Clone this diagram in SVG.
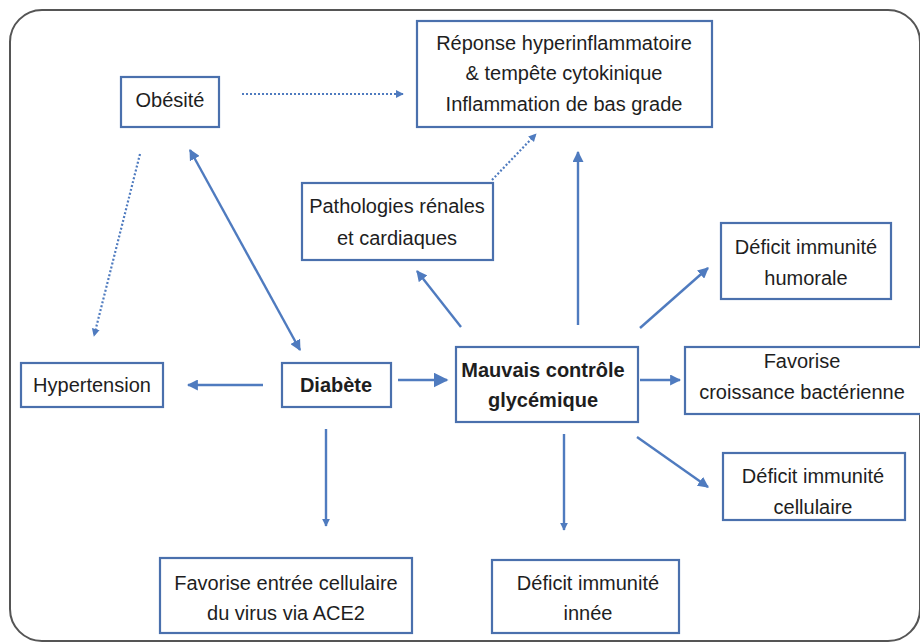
<svg xmlns="http://www.w3.org/2000/svg" width="920" height="644" viewBox="0 0 920 644">
<style>
.box{fill:#fff;stroke:#4a70ad;stroke-width:2.2}
.t{font-family:"Liberation Sans",Arial,sans-serif;font-size:20px;fill:#1e1e1e;text-anchor:middle}
.b{font-weight:bold}
.c{fill:none;stroke:#4f7bbf;stroke-width:2.4}
.d{fill:none;stroke:#4f7bbf;stroke-width:2.2;stroke-dasharray:2 2}
</style>
<defs>
<marker id="ah" viewBox="0 0 10 10" refX="9" refY="5" markerWidth="11" markerHeight="11" markerUnits="userSpaceOnUse" orient="auto-start-reverse"><path d="M0,0 L10,5 L0,10 z" fill="#4f7bbf"/></marker>
<marker id="ahb" viewBox="0 0 10 10" refX="9" refY="5" markerWidth="15" markerHeight="15" markerUnits="userSpaceOnUse" orient="auto"><path d="M0,0 L10,5 L0,10 z" fill="#4f7bbf"/></marker>
<marker id="ahs" viewBox="0 0 10 10" refX="9" refY="5" markerWidth="8" markerHeight="10" markerUnits="userSpaceOnUse" orient="auto"><path d="M0,0 L10,5 L0,10 z" fill="#4f7bbf"/></marker>
</defs>
<rect x="10" y="10" width="910" height="631" rx="32" fill="#fff" stroke="#555" stroke-width="2"/>
<g id="connectors">
<line class="d" x1="242" y1="94" x2="403" y2="94" marker-end="url(#ahs)"/>
<line class="d" x1="140" y1="154" x2="94" y2="336" marker-end="url(#ahs)"/>
<line class="c" x1="190" y1="150" x2="300" y2="350" marker-start="url(#ah)" marker-end="url(#ah)"/>
<line class="d" x1="492" y1="180" x2="536" y2="134" marker-end="url(#ahs)"/>
<line class="c" x1="461" y1="327" x2="417" y2="271" marker-end="url(#ah)"/>
<line class="c" x1="578" y1="325" x2="578" y2="152" marker-end="url(#ah)"/>
<line class="c" x1="640" y1="328" x2="708" y2="268" marker-end="url(#ah)"/>
<line class="c" stroke-width="3" x1="263" y1="385" x2="188" y2="385" marker-end="url(#ah)"/>
<line class="c" stroke-width="3.5" x1="398" y1="380" x2="447" y2="380" marker-end="url(#ahb)"/>
<line class="c" stroke-width="2" x1="326" y1="429" x2="326" y2="526" marker-end="url(#ahs)"/>
<line class="c" x1="640" y1="380" x2="680" y2="380" marker-end="url(#ah)"/>
<line class="c" x1="637" y1="437" x2="708" y2="487" marker-end="url(#ah)"/>
<line class="c" stroke-width="2" x1="564" y1="434" x2="564" y2="530" marker-end="url(#ahs)"/>
</g>
<g id="obesite"><rect class="box" x="121" y="77" width="98" height="50"/><text class="t" x="170" y="107">Obésité</text></g>
<g id="reponse"><rect class="box" x="417" y="21" width="295" height="106"/>
<text class="t" x="564" y="50">Réponse hyperinflammatoire</text>
<text class="t" x="564" y="80">&amp; tempête cytokinique</text>
<text class="t" x="564" y="111">Inflammation de bas grade</text></g>
<g id="pathologies"><rect class="box" x="302" y="183" width="191" height="77"/>
<text class="t" x="397" y="213">Pathologies rénales</text>
<text class="t" x="397" y="245">et cardiaques</text></g>
<g id="humorale"><rect class="box" x="721" y="223" width="170" height="76"/>
<text class="t" x="806" y="254">Déficit immunité</text>
<text class="t" x="806" y="285">humorale</text></g>
<g id="hypertension"><rect class="box" x="21" y="363" width="142" height="44"/><text class="t" x="92" y="392">Hypertension</text></g>
<g id="diabete"><rect class="box" x="282" y="363" width="109" height="44"/><text class="t b" x="336" y="392">Diabète</text></g>
<g id="mauvais"><rect class="box" x="456" y="347" width="182" height="75"/>
<text class="t b" x="543" y="377">Mauvais contrôle</text>
<text class="t b" x="543" y="407">glycémique</text></g>
<g id="croissance"><rect class="box" x="685" y="347" width="245" height="67"/>
<text class="t" x="802" y="368">Favorise</text>
<text class="t" x="802" y="399">croissance bactérienne</text></g>
<g id="cellulaire"><rect class="box" x="723" y="453" width="182" height="67"/>
<text class="t" x="813" y="483">Déficit immunité</text>
<text class="t" x="813" y="514">cellulaire</text></g>
<g id="innee"><rect class="box" x="492" y="560" width="187" height="73"/>
<text class="t" x="588" y="590">Déficit immunité</text>
<text class="t" x="588" y="620">innée</text></g>
<g id="ace2"><rect class="box" x="160" y="558" width="252" height="75"/>
<text class="t" x="286" y="590">Favorise entrée cellulaire</text>
<text class="t" x="286" y="620">du virus via ACE2</text></g>
</svg>
